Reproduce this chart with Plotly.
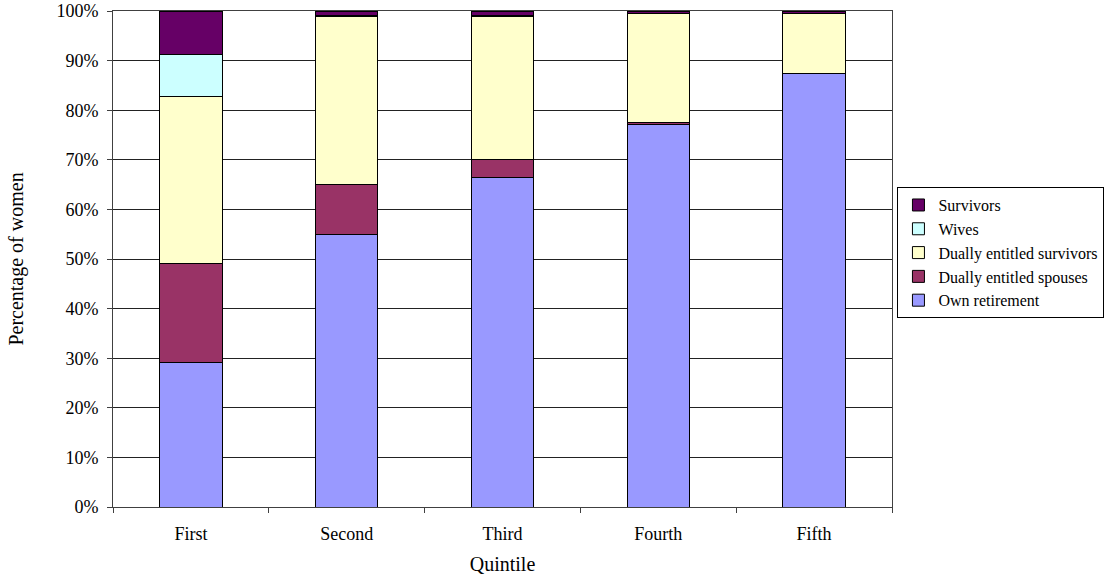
import plotly.graph_objects as go

quintiles = ["First", "Second", "Third", "Fourth", "Fifth"]

own_retirement = [29.2, 54.9, 66.5, 77.2, 87.3]
dually_spouses = [19.9, 10.2, 3.6, 0.3, 0.0]
dually_survivors = [33.7, 33.8, 28.8, 22.0, 12.2]
wives = [8.5, 0.1, 0.1, 0.0, 0.0]
survivors = [8.7, 1.0, 1.0, 0.5, 0.5]

series = [
    ("Own retirement", own_retirement, "#9999FF"),
    ("Dually entitled spouses", dually_spouses, "#993366"),
    ("Dually entitled survivors", dually_survivors, "#FFFFCC"),
    ("Wives", wives, "#CCFFFF"),
    ("Survivors", survivors, "#660066"),
]

fig = go.Figure()
for name, vals, color in series:
    fig.add_trace(go.Bar(
        x=quintiles, y=vals, name=name,
        marker=dict(color=color, line=dict(color="#000000", width=1)),
        width=0.4,
    ))

font_family = "Liberation Serif, Times New Roman, serif"

fig.update_layout(
    barmode="stack",
    width=1112, height=582,
    margin=dict(l=113, r=220, t=11, b=75, autoexpand=False),
    paper_bgcolor="white", plot_bgcolor="white",
    font=dict(family=font_family, size=18, color="#000000"),
    showlegend=True,
    legend=dict(
        traceorder="reversed",
        x=1.007, xanchor="left", y=0.645, yanchor="top",
        bordercolor="#000000", borderwidth=1,
        font=dict(family=font_family, size=16),
        itemwidth=30, tracegroupgap=0,
    ),
    xaxis=dict(
        title=dict(text="Quintile", standoff=14, font=dict(size=20)),
        automargin=False,
        tickson="boundaries", ticks="outside", ticklen=5, tickcolor="#404040",
        ticklabelstandoff=10,
        showline=True, linecolor="#404040", linewidth=1, mirror=True,
        showgrid=False,
    ),
    yaxis=dict(
        title=dict(text="Percentage of women", standoff=27, font=dict(size=20)),
        automargin=False,
        range=[0, 100], dtick=10, ticksuffix="%",
        ticks="outside", ticklen=5, tickcolor="#404040",
        ticklabelstandoff=5,
        showline=True, linecolor="#404040", linewidth=1, mirror=True,
        showgrid=True, gridcolor="#222222", gridwidth=1,
        zeroline=False,
    ),
)

fig.write_html("out.html")
